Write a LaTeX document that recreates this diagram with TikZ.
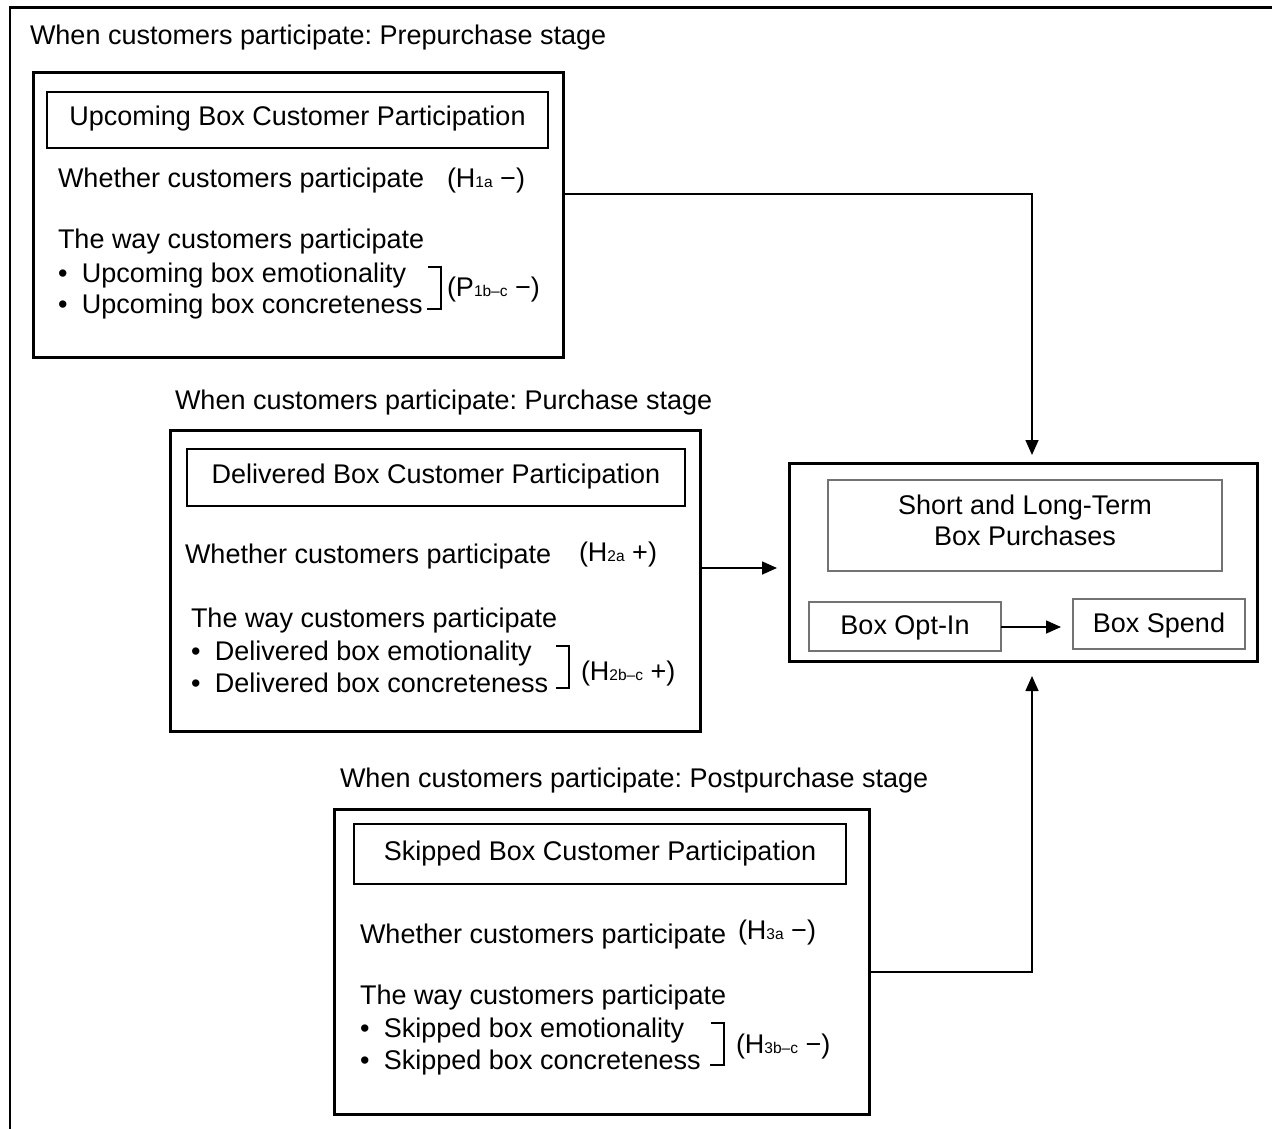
\documentclass[tikz,border=0pt]{standalone}
\usepackage{fontspec}
\setmainfont{Liberation Sans}
\usetikzlibrary{arrows.meta}
\newcommand\sbs[1]{{\fontsize{15.5}{15.5}\selectfont #1}}
\frenchspacing
\begin{document}
\begin{tikzpicture}[x=1pt,y=-1pt,
  every node/.style={inner sep=0pt, outer sep=0pt, font=\fontsize{27}{31}\selectfont},
  txt/.style={anchor=base west},
  outerbox/.style={draw, line width=3pt},
  hdrbox/.style={draw, line width=2.2pt, text height=18pt, text depth=6pt},
  inbox/.style={draw=black!55, line width=1.3pt, text height=18pt, text depth=2pt},
  arr/.style={line width=1.6pt, -{Triangle[length=15pt,width=13pt]}},
  brk/.style={line width=1.3pt}
]
\useasboundingbox (0,0) rectangle (1272,1129);
% outer frame (top and left edges visible)
\draw[line width=2.4pt] (10,1129) -- (10,7.5) -- (1272,7.5);

% ---------- Prepurchase stage ----------
\node[txt] (t1) at (30,45) {When customers participate: Prepurchase stage};
\node[outerbox, minimum width=530pt, minimum height=284pt] (b1) at (298,215) {};
\node[hdrbox, minimum width=501pt, minimum height=56pt] (h1) at (297.5,120) {Upcoming Box Customer Participation};
\node[txt] (w1) at (58,187) {Whether customers participate};
\node[txt] (k1a) at (447,187) {(H\sbs{1a} −)};
\node[txt] (way1) at (58,248) {The way customers participate};
\node[txt] (e1) at (58,282) {•\hspace{14.5pt}Upcoming box emotionality};
\node[txt] (c1) at (58,313) {•\hspace{14.5pt}Upcoming box concreteness};
\draw[brk] (428,267) -- (441,267) -- (441,309) -- (427,309);
\node[txt] (k1b) at (447,296) {(P\sbs{1b–c} −)};

% ---------- Purchase stage ----------
\node[txt] (t2) at (175,409) {When customers participate: Purchase stage};
\node[outerbox, minimum width=530pt, minimum height=301pt] (b2) at (435,580.5) {};
\node[hdrbox, minimum width=498pt, minimum height=57pt] (h2) at (436,477.5) {Delivered Box Customer Participation};
\node[txt] (w2) at (185,563) {Whether customers participate};
\node[txt] (k2a) at (579,561) {(H\sbs{2a} +)};
\node[txt] (way2) at (191,627) {The way customers participate};
\node[txt] (e2) at (191,660) {•\hspace{14.5pt}Delivered box emotionality};
\node[txt] (c2) at (191,692) {•\hspace{14.5pt}Delivered box concreteness};
\draw[brk] (556,646) -- (569,646) -- (569,688) -- (556,688);
\node[txt] (k2b) at (581,680) {(H\sbs{2b–c} +)};

% ---------- Postpurchase stage ----------
\node[txt] (t3) at (340,787) {When customers participate: Postpurchase stage};
\node[outerbox, minimum width=535pt, minimum height=305pt] (b3) at (601.5,961.5) {};
\node[hdrbox, minimum width=492pt, minimum height=60pt] (h3) at (600,854) {Skipped Box Customer Participation};
\node[txt] (w3) at (360,943) {Whether customers participate};
\node[txt] (k3a) at (738,939) {(H\sbs{3a} −)};
\node[txt] (way3) at (360,1004) {The way customers participate};
\node[txt] (e3) at (360,1037) {•\hspace{14.5pt}Skipped box emotionality};
\node[txt] (c3) at (360,1069) {•\hspace{14.5pt}Skipped box concreteness};
\draw[brk] (711,1023) -- (724,1023) -- (724,1065) -- (710,1065);
\node[txt] (k3b) at (736,1053) {(H\sbs{3b–c} −)};

% ---------- Outcome ----------
\node[outerbox, minimum width=468pt, minimum height=198pt] (b4) at (1023,562) {};
\node[draw=black!55, line width=1.3pt, minimum width=394pt, minimum height=91pt] (stl) at (1025,525.5) {};
\node[align=center] (stltxt) at (1025,520) {Short and Long-Term\\Box Purchases};
\node[inbox, minimum width=192pt, minimum height=49pt] (optin) at (905,626.5) {Box Opt-In};
\node[inbox, minimum width=172pt, minimum height=50pt] (spend) at (1159,624) {Box Spend};

% ---------- connectors ----------
\coordinate (ya) at (0,194);
\coordinate (yb) at (0,568);
\coordinate (yc) at (0,972);
\coordinate (ys) at (0,627);
\coordinate (xa) at (1032,0);
\draw[arr, shorten >=8pt] (b1.east |- ya) -| (b4.north -| xa);
\draw[arr, shorten >=12pt] (b2.east |- yb) -- (b4.west |- yb);
\draw[arr, shorten >=15pt] (b3.east |- yc) -| (b4.south -| xa);
\draw[arr, shorten >=12pt] (optin.east |- ys) -- (spend.west |- ys);
\end{tikzpicture}
\end{document}
